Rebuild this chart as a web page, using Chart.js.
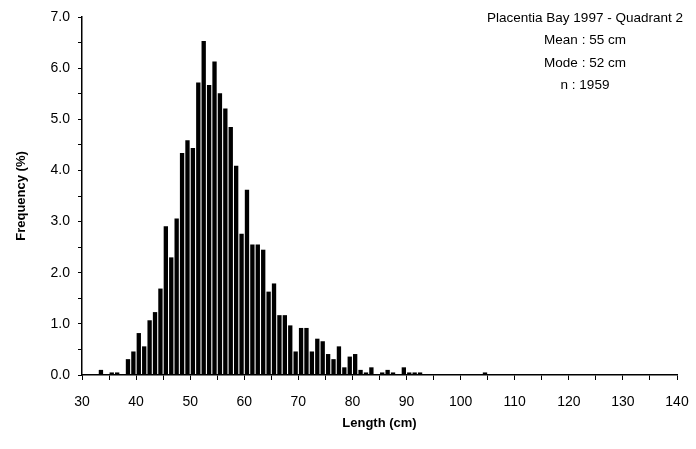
<!DOCTYPE html>
<html>
<head>
<meta charset="utf-8">
<script src="https://cdn.jsdelivr.net/npm/chart.js@4.4.1/dist/chart.umd.min.js"></script>
<style>
  html, body { margin: 0; padding: 0; background: #fff; }
  #wrap { width: 696px; height: 449px; }
</style>
</head>
<body>
<div id="wrap"><canvas id="lengthChart" width="696" height="449"></canvas></div>
<script>
// Length bins (cm, lower edge of each 1 cm class) and frequency (%)
const lengthBins = [33, 35, 36, 38, 39, 40, 41, 42, 43, 44, 45, 46, 47, 48, 49, 50,
  51, 52, 53, 54, 55, 56, 57, 58, 59, 60, 61, 62, 63, 64, 65, 66, 67, 68, 69, 70,
  71, 72, 73, 74, 75, 76, 77, 78, 79, 80, 81, 82, 83, 85, 86, 87, 89, 90, 91, 92, 104];
const frequency = [0.10, 0.05, 0.05, 0.31, 0.46, 0.82, 0.56, 1.07, 1.23, 1.69, 2.91, 2.30, 3.06, 4.34, 4.59, 4.44,
  5.72, 6.53, 5.67, 6.13, 5.51, 5.21, 4.85, 4.09, 2.76, 3.62, 2.55, 2.55, 2.45, 1.63, 1.79, 1.17, 1.17, 0.97, 0.46, 0.92,
  0.92, 0.46, 0.71, 0.66, 0.41, 0.31, 0.56, 0.15, 0.36, 0.41, 0.10, 0.05, 0.15, 0.05, 0.10, 0.05, 0.15, 0.05, 0.05, 0.05, 0.05];
const infoLines = ['Placentia Bay 1997 - Quadrant 2', 'Mean : 55 cm', 'Mode : 52 cm', 'n : 1959'];

const FONT = '"Liberation Sans", Arial, Helvetica, sans-serif';

// text block in the top right corner
const infoText = {
  id: 'infoText',
  afterDraw(chart) {
    const { ctx, chartArea } = chart;
    ctx.save();
    ctx.fillStyle = '#000';
    ctx.font = '13.5px ' + FONT;
    ctx.textAlign = 'center';
    ctx.textBaseline = 'middle';
    const cx = chartArea.right - 92;
    infoLines.forEach((t, i) => ctx.fillText(t, cx, chartArea.top + 1 + i * 22.5));
    ctx.restore();
  }
};

const ctx = document.getElementById('lengthChart').getContext('2d');
new Chart(ctx, {
  type: 'bar',
  data: {
    datasets: [{
      data: lengthBins.map((b, i) => ({ x: b + 0.5, y: frequency[i] })),
      backgroundColor: '#000',
      borderWidth: 0,
      barPercentage: 0.8,
      categoryPercentage: 1
    }]
  },
  options: {
    responsive: false,
    animation: false,
    layout: { padding: { left: 0, right: 19, top: 17, bottom: 0 } },
    plugins: { legend: { display: false }, tooltip: { enabled: false } },
    scales: {
      x: {
        type: 'linear',
        min: 30,
        max: 140,
        offset: false,
        afterFit: s => { s.height = 74; s.paddingLeft = 0; s.paddingRight = 0; },
        border: { display: true, color: '#000', width: 1.5 },
        grid: { display: true, offset: false, drawOnChartArea: false, drawTicks: true, tickLength: 5, color: '#000', lineWidth: 1 },
        ticks: {
          stepSize: 5,
          autoSkip: false,
          maxRotation: 0,
          color: '#000',
          padding: 14,
          font: { family: FONT, size: 14 },
          callback: v => (v % 10 === 0 ? String(v) : '')
        },
        title: { display: true, text: 'Length (cm)', color: '#000', font: { family: FONT, size: 13, weight: 'bold' }, padding: { top: 4, bottom: 18 } }
      },
      y: {
        min: 0,
        max: 7,
        afterFit: s => { s.width = 82; s.paddingTop = 0; s.paddingBottom = 0; },
        border: { display: true, color: '#000', width: 1.5 },
        grid: { display: true, drawOnChartArea: false, drawTicks: true, tickLength: 4, color: '#000', lineWidth: 1 },
        ticks: {
          stepSize: 0.5,
          autoSkip: false,
          color: '#000',
          padding: 8,
          font: { family: FONT, size: 14 },
          callback: v => (v % 1 === 0 ? v.toFixed(1) : '')
        },
        title: { display: true, text: 'Frequency (%)', color: '#000', font: { family: FONT, size: 13, weight: 'bold' }, padding: { top: 14, bottom: 4 } }
      }
    }
  },
  plugins: [infoText]
});
</script>
</body>
</html>
